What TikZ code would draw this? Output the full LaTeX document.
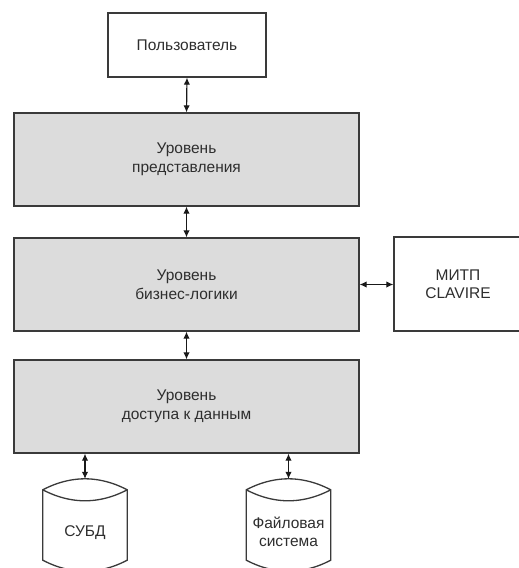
\documentclass[tikz,border=0pt]{standalone}
\usepackage{fontspec}
\setmainfont{Liberation Sans}
\usetikzlibrary{arrows.meta}
\definecolor{edge}{HTML}{3A3A3A}
\definecolor{layerfill}{HTML}{DCDCDC}
\definecolor{txt}{HTML}{2E2E2E}
\begin{document}
\begin{tikzpicture}[x=1pt,y=-1pt,
  line/.style={draw=edge, line width=1.3pt},
  lbl/.style={font=\fontsize{15.5}{18.5}\selectfont, text=txt, align=center},
  box/.style={line, rectangle, lbl, inner sep=0pt, fill=white},
  layer/.style={box, fill=layerfill, minimum width=345pt, minimum height=93pt},
  conn/.style={line width=1.2pt, draw=black!90, {Latex[length=7pt,width=6.5pt]}-{Latex[length=7pt,width=6.5pt]}},
  cylnode/.style={rectangle, minimum width=84pt, minimum height=92pt, inner sep=0pt}]
\useasboundingbox (0,0) rectangle (519,568);
\clip (0,0) rectangle (519,568);
\node[box, minimum width=158pt, minimum height=64pt] (user) at (187,45) {Пользователь};
\node[layer] (pres) at (186.5,159.5) {Уровень\\представления};
\node[layer] (logic) at (186.5,284.5) {Уровень\\бизнес-логики};
\node[layer] (data) at (186.5,406.5) {Уровень\\доступа к данным};
\node[box, minimum width=128pt, minimum height=94pt] (mitp) at (458,284) {МИТП\\CLAVIRE};
% cylinders (shape drawn from the node's anchors)
\node[cylnode] (dbms) at (85,525) {};
\node[cylnode] (fs) at (288.5,525) {};
\foreach \c in {dbms,fs}{
  \draw[line, fill=white]
    ([yshift=-11pt]\c.north west) parabola bend (\c.north) ([yshift=-11pt]\c.north east)
    -- ([yshift=11pt]\c.south east) parabola bend (\c.south) ([yshift=11pt]\c.south west)
    -- cycle;
  \draw[line]
    ([yshift=-11pt]\c.north west) parabola bend ([yshift=-22pt]\c.north) ([yshift=-11pt]\c.north east);
}
\node[lbl] (dbmst) at (85,533) {СУБД};
\node[lbl] (fst) at (288.5,532) {Файловая\\система};
% connectors
\draw[conn] (user.south) -- (pres.north);
\draw[conn] (pres.south) -- (logic.north);
\draw[conn] (logic.south) -- (data.north);
\draw[conn] (logic.east) -- (mitp.west |- logic.east);
\draw[conn] (data.south -| dbms.north) -- (dbms.north);
\draw[conn] (data.south -| fs.north) -- (fs.north);
\end{tikzpicture}
\end{document}
